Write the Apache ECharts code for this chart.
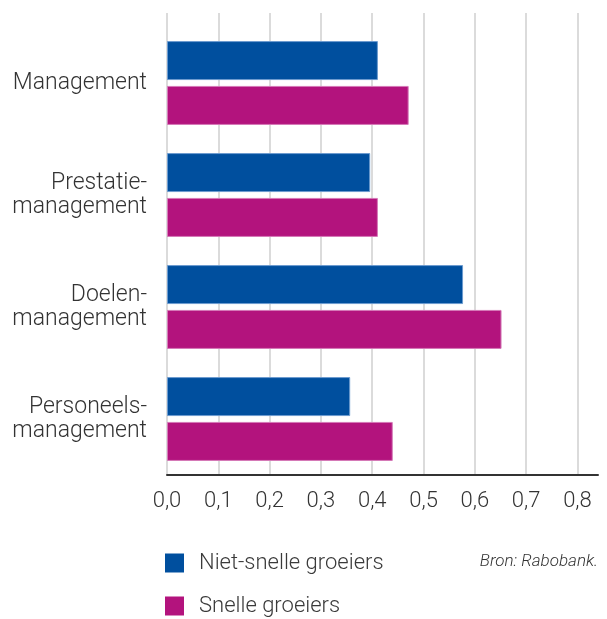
<!DOCTYPE html>
<html>
<head>
<meta charset="utf-8">
<script src="https://cdn.jsdelivr.net/npm/echarts@6/dist/echarts.min.js"></script>
<style>
  html, body { margin: 0; padding: 0; background: #fff; }
  #main { width: 607px; height: 619px; }
</style>
</head>
<body>
<div id="main"></div>
<script>
// categorieën (van boven naar beneden)
var categories = ['Management', 'Prestatie-\nmanagement', 'Doelen-\nmanagement', 'Personeels-\nmanagement'];
// waarden per reeks
var nietSnel = [0.411, 0.396, 0.577, 0.357];
var snel = [0.471, 0.411, 0.652, 0.440];
var seriesNames = ['Niet-snelle groeiers', 'Snelle groeiers'];
var xMin = 0, xMax = 0.84, xStep = 0.1;

var font = 'Roboto, "Open Sans", sans-serif';
var myChart = echarts.init(document.getElementById('main'));

// één legenda per reeks, onder elkaar
function legendFor(name, top) {
    return {
        left: 165,
        top: top,
        padding: 0,
        icon: 'rect',
        itemWidth: 19,
        itemHeight: 19,
        itemStyle: { borderWidth: 0 },
        data: [name],
        textStyle: { fontFamily: font, fontWeight: 300, fontSize: 22, color: '#3a3a3a', padding: [0, 0, 0, 10] }
    };
}

myChart.setOption({
    animation: false,
    title: {
        text: 'Bron: Rabobank.',
        right: 9,
        top: 553,
        padding: 0,
        textStyle: { fontFamily: font, fontStyle: 'italic', fontWeight: 300, fontSize: 17, color: '#333' }
    },
    legend: [legendFor(seriesNames[0], 552), legendFor(seriesNames[1], 595)],
    grid: [
        // raster met rasterlijnen en x-as
        { left: 167, right: 9, top: 13, bottom: 144 },
        // raster voor de staven
        { left: 167, right: 9, top: 27, bottom: 144 }
    ],
    xAxis: [{
        gridIndex: 0,
        type: 'value',
        min: xMin,
        max: xMax,
        interval: xStep,
        axisLine: { show: true, lineStyle: { color: '#333', width: 2 } },
        axisTick: { show: false },
        splitLine: { show: true, showMaxLine: false, lineStyle: { color: '#cfcfcf', width: 1.5 } },
        axisLabel: {
            margin: 15,
            showMaxLabel: false,
            fontFamily: font,
            fontWeight: 300,
            fontSize: 22,
            color: '#333',
            formatter: function (v) { return v.toFixed(1).replace('.', ','); }
        }
    }, {
        gridIndex: 1,
        type: 'value',
        min: xMin,
        max: xMax,
        interval: xStep,
        show: false
    }],
    yAxis: [{
        gridIndex: 0,
        type: 'value',
        show: false
    }, {
        gridIndex: 1,
        type: 'category',
        inverse: true,
        data: categories,
        axisLine: { show: false },
        axisTick: { show: false },
        axisLabel: {
            margin: 20,
            fontFamily: font,
            fontWeight: 300,
            fontSize: 23,
            lineHeight: 24,
            color: '#333',
            align: 'right'
        }
    }],
    series: [{
        name: seriesNames[0],
        type: 'bar',
        xAxisIndex: 1,
        yAxisIndex: 1,
        barWidth: 39,
        barGap: '15%',
        itemStyle: { color: '#004f9e', borderColor: '#6c9bcf', borderWidth: 1 },
        data: nietSnel
    }, {
        name: seriesNames[1],
        type: 'bar',
        xAxisIndex: 1,
        yAxisIndex: 1,
        barWidth: 39,
        barGap: '15%',
        itemStyle: { color: '#b3137d', borderColor: '#d57ab8', borderWidth: 1 },
        data: snel
    }]
});
</script>
</body>
</html>
